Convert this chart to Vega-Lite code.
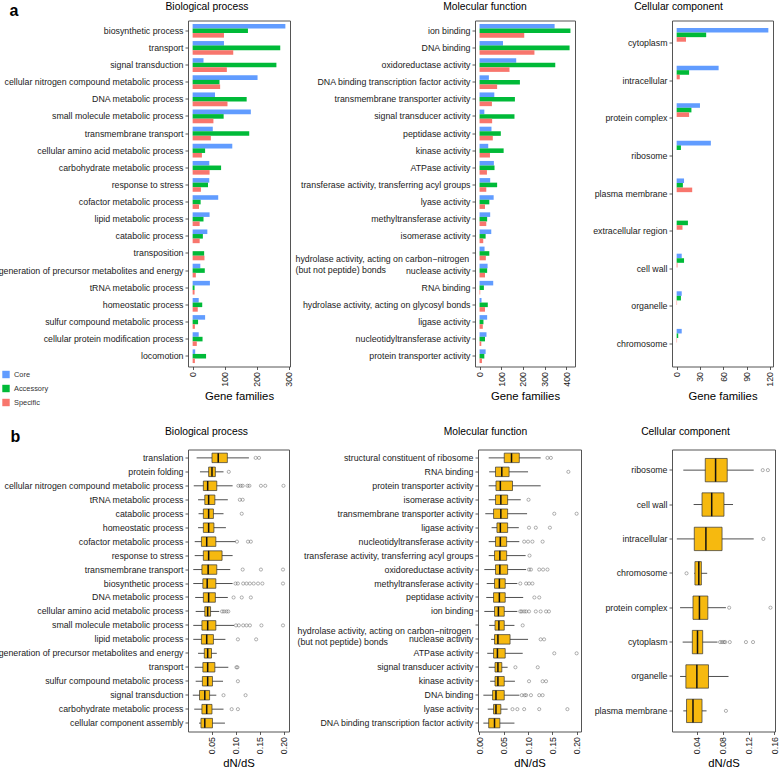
{
  "$schema": "https://vega.github.io/schema/vega-lite/v6.json",
  "padding": {"left": -3, "top": 1.5, "right": 0, "bottom": 0},
  "config": {
    "font": "Liberation Sans",
    "view": {"stroke": "#555", "strokeWidth": 1},
    "axis": {"domain": false, "grid": false, "tickSize": 3, "tickColor": "#333", "tickWidth": 0.8, "labelFontSize": 8.8, "labelColor": "#1a1a1a", "labelPadding": 2, "labelLimit": 400, "titleFontSize": 11.3, "titleFontWeight": "normal", "titleColor": "#000"},
    "axisX": {"labelAngle": 270, "titlePadding": 4, "labelOverlap": false, "labelFlush": false},
    "title": {"fontSize": 10.3, "fontWeight": "normal", "anchor": "middle", "color": "#000"}
  },
  "datasets": {
    "bpBar": [
      {"t":"biosynthetic process","g":"Core","v":290},{"t":"biosynthetic process","g":"Accessory","v":173},{"t":"biosynthetic process","g":"Specific","v":98},
      {"t":"transport","g":"Core","v":98},{"t":"transport","g":"Accessory","v":274},{"t":"transport","g":"Specific","v":127},
      {"t":"signal transduction","g":"Core","v":34},{"t":"signal transduction","g":"Accessory","v":262},{"t":"signal transduction","g":"Specific","v":107},
      {"t":"cellular nitrogen compound metabolic process","g":"Core","v":203},{"t":"cellular nitrogen compound metabolic process","g":"Accessory","v":84},{"t":"cellular nitrogen compound metabolic process","g":"Specific","v":86},
      {"t":"DNA metabolic process","g":"Core","v":70},{"t":"DNA metabolic process","g":"Accessory","v":169},{"t":"DNA metabolic process","g":"Specific","v":109},
      {"t":"small molecule metabolic process","g":"Core","v":182},{"t":"small molecule metabolic process","g":"Accessory","v":97},{"t":"small molecule metabolic process","g":"Specific","v":65},
      {"t":"transmembrane transport","g":"Core","v":63},{"t":"transmembrane transport","g":"Accessory","v":177},{"t":"transmembrane transport","g":"Specific","v":57},
      {"t":"cellular amino acid metabolic process","g":"Core","v":124},{"t":"cellular amino acid metabolic process","g":"Accessory","v":39},{"t":"cellular amino acid metabolic process","g":"Specific","v":29},
      {"t":"carbohydrate metabolic process","g":"Core","v":52},{"t":"carbohydrate metabolic process","g":"Accessory","v":89},{"t":"carbohydrate metabolic process","g":"Specific","v":53},
      {"t":"response to stress","g":"Core","v":52},{"t":"response to stress","g":"Accessory","v":48},{"t":"response to stress","g":"Specific","v":26},
      {"t":"cofactor metabolic process","g":"Core","v":80},{"t":"cofactor metabolic process","g":"Accessory","v":25},{"t":"cofactor metabolic process","g":"Specific","v":20},
      {"t":"lipid metabolic process","g":"Core","v":53},{"t":"lipid metabolic process","g":"Accessory","v":34},{"t":"lipid metabolic process","g":"Specific","v":22},
      {"t":"catabolic process","g":"Core","v":46},{"t":"catabolic process","g":"Accessory","v":32},{"t":"catabolic process","g":"Specific","v":22},
      {"t":"transposition","g":"Core","v":0},{"t":"transposition","g":"Accessory","v":36},{"t":"transposition","g":"Specific","v":37},
      {"t":"generation of precursor metabolites and energy","g":"Core","v":24},{"t":"generation of precursor metabolites and energy","g":"Accessory","v":38},{"t":"generation of precursor metabolites and energy","g":"Specific","v":10},
      {"t":"tRNA metabolic process","g":"Core","v":54},{"t":"tRNA metabolic process","g":"Accessory","v":6},{"t":"tRNA metabolic process","g":"Specific","v":6},
      {"t":"homeostatic process","g":"Core","v":19},{"t":"homeostatic process","g":"Accessory","v":30},{"t":"homeostatic process","g":"Specific","v":16},
      {"t":"sulfur compound metabolic process","g":"Core","v":39},{"t":"sulfur compound metabolic process","g":"Accessory","v":17},{"t":"sulfur compound metabolic process","g":"Specific","v":7},
      {"t":"cellular protein modification process","g":"Core","v":19},{"t":"cellular protein modification process","g":"Accessory","v":31},{"t":"cellular protein modification process","g":"Specific","v":13},
      {"t":"locomotion","g":"Core","v":8},{"t":"locomotion","g":"Accessory","v":42},{"t":"locomotion","g":"Specific","v":7}
    ],
    "mfBar": [
      {"t":"ion binding","g":"Core","v":346},{"t":"ion binding","g":"Accessory","v":419},{"t":"ion binding","g":"Specific","v":206},
      {"t":"DNA binding","g":"Core","v":108},{"t":"DNA binding","g":"Accessory","v":415},{"t":"DNA binding","g":"Specific","v":253},
      {"t":"oxidoreductase activity","g":"Core","v":169},{"t":"oxidoreductase activity","g":"Accessory","v":349},{"t":"oxidoreductase activity","g":"Specific","v":138},
      {"t":"DNA binding transcription factor activity","g":"Core","v":43},{"t":"DNA binding transcription factor activity","g":"Accessory","v":186},{"t":"DNA binding transcription factor activity","g":"Specific","v":81},
      {"t":"transmembrane transporter activity","g":"Core","v":68},{"t":"transmembrane transporter activity","g":"Accessory","v":163},{"t":"transmembrane transporter activity","g":"Specific","v":57},
      {"t":"signal transducer activity","g":"Core","v":22},{"t":"signal transducer activity","g":"Accessory","v":161},{"t":"signal transducer activity","g":"Specific","v":58},
      {"t":"peptidase activity","g":"Core","v":55},{"t":"peptidase activity","g":"Accessory","v":98},{"t":"peptidase activity","g":"Specific","v":61},
      {"t":"kinase activity","g":"Core","v":40},{"t":"kinase activity","g":"Accessory","v":111},{"t":"kinase activity","g":"Specific","v":48},
      {"t":"ATPase activity","g":"Core","v":66},{"t":"ATPase activity","g":"Accessory","v":69},{"t":"ATPase activity","g":"Specific","v":34},
      {"t":"transferase activity, transferring acyl groups","g":"Core","v":49},{"t":"transferase activity, transferring acyl groups","g":"Accessory","v":81},{"t":"transferase activity, transferring acyl groups","g":"Specific","v":31},
      {"t":"lyase activity","g":"Core","v":65},{"t":"lyase activity","g":"Accessory","v":45},{"t":"lyase activity","g":"Specific","v":25},
      {"t":"methyltransferase activity","g":"Core","v":49},{"t":"methyltransferase activity","g":"Accessory","v":35},{"t":"methyltransferase activity","g":"Specific","v":31},
      {"t":"isomerase activity","g":"Core","v":54},{"t":"isomerase activity","g":"Accessory","v":28},{"t":"isomerase activity","g":"Specific","v":17},
      {"t":"hydrolase activity, acting on carbon−nitrogen (but not peptide) bonds","g":"Core","v":23},{"t":"hydrolase activity, acting on carbon−nitrogen (but not peptide) bonds","g":"Accessory","v":45},{"t":"hydrolase activity, acting on carbon−nitrogen (but not peptide) bonds","g":"Specific","v":29},
      {"t":"nuclease activity","g":"Core","v":37},{"t":"nuclease activity","g":"Accessory","v":35},{"t":"nuclease activity","g":"Specific","v":25},
      {"t":"RNA binding","g":"Core","v":63},{"t":"RNA binding","g":"Accessory","v":20},{"t":"RNA binding","g":"Specific","v":3},
      {"t":"hydrolase activity, acting on glycosyl bonds","g":"Core","v":9},{"t":"hydrolase activity, acting on glycosyl bonds","g":"Accessory","v":38},{"t":"hydrolase activity, acting on glycosyl bonds","g":"Specific","v":25},
      {"t":"ligase activity","g":"Core","v":35},{"t":"ligase activity","g":"Accessory","v":18},{"t":"ligase activity","g":"Specific","v":15},
      {"t":"nucleotidyltransferase activity","g":"Core","v":32},{"t":"nucleotidyltransferase activity","g":"Accessory","v":25},{"t":"nucleotidyltransferase activity","g":"Specific","v":8},
      {"t":"protein transporter activity","g":"Core","v":28},{"t":"protein transporter activity","g":"Accessory","v":22},{"t":"protein transporter activity","g":"Specific","v":11}
    ],
    "ccBar": [
      {"t":"cytoplasm","g":"Core","v":118},{"t":"cytoplasm","g":"Accessory","v":38},{"t":"cytoplasm","g":"Specific","v":12},
      {"t":"intracellular","g":"Core","v":54},{"t":"intracellular","g":"Accessory","v":16},{"t":"intracellular","g":"Specific","v":4},
      {"t":"protein complex","g":"Core","v":30},{"t":"protein complex","g":"Accessory","v":19},{"t":"protein complex","g":"Specific","v":16},
      {"t":"ribosome","g":"Core","v":44},{"t":"ribosome","g":"Accessory","v":5.5},{"t":"ribosome","g":"Specific","v":0},
      {"t":"plasma membrane","g":"Core","v":9.5},{"t":"plasma membrane","g":"Accessory","v":8},{"t":"plasma membrane","g":"Specific","v":20},
      {"t":"extracellular region","g":"Core","v":0},{"t":"extracellular region","g":"Accessory","v":14.5},{"t":"extracellular region","g":"Specific","v":7.5},
      {"t":"cell wall","g":"Core","v":6.5},{"t":"cell wall","g":"Accessory","v":9.5},{"t":"cell wall","g":"Specific","v":1},
      {"t":"organelle","g":"Core","v":6.5},{"t":"organelle","g":"Accessory","v":5.5},{"t":"organelle","g":"Specific","v":0.5},
      {"t":"chromosome","g":"Core","v":6.5},{"t":"chromosome","g":"Accessory","v":2},{"t":"chromosome","g":"Specific","v":0.5}
    ],
    "bpBox": [
      {"t":"translation","lo":0.018,"q1":0.050,"med":0.063,"q3":0.082,"hi":0.127},
      {"t":"protein folding","lo":0.025,"q1":0.043,"med":0.050,"q3":0.057,"hi":0.074},
      {"t":"cellular nitrogen compound metabolic process","lo":0.012,"q1":0.032,"med":0.041,"q3":0.060,"hi":0.093},
      {"t":"tRNA metabolic process","lo":0.021,"q1":0.035,"med":0.043,"q3":0.056,"hi":0.083},
      {"t":"catabolic process","lo":0.022,"q1":0.032,"med":0.043,"q3":0.053,"hi":0.074},
      {"t":"homeostatic process","lo":0.021,"q1":0.032,"med":0.043,"q3":0.054,"hi":0.079},
      {"t":"cofactor metabolic process","lo":0.014,"q1":0.028,"med":0.039,"q3":0.058,"hi":0.099},
      {"t":"response to stress","lo":0.014,"q1":0.032,"med":0.043,"q3":0.071,"hi":0.093},
      {"t":"transmembrane transport","lo":0.011,"q1":0.029,"med":0.042,"q3":0.060,"hi":0.088},
      {"t":"biosynthetic process","lo":0.011,"q1":0.031,"med":0.040,"q3":0.058,"hi":0.093},
      {"t":"DNA metabolic process","lo":0.015,"q1":0.032,"med":0.043,"q3":0.057,"hi":0.083},
      {"t":"cellular amino acid metabolic process","lo":0.016,"q1":0.035,"med":0.041,"q3":0.047,"hi":0.065},
      {"t":"small molecule metabolic process","lo":0.011,"q1":0.029,"med":0.041,"q3":0.058,"hi":0.096},
      {"t":"lipid metabolic process","lo":0.011,"q1":0.028,"med":0.039,"q3":0.053,"hi":0.078},
      {"t":"generation of precursor metabolites and energy","lo":0.021,"q1":0.034,"med":0.041,"q3":0.049,"hi":0.060},
      {"t":"transport","lo":0.014,"q1":0.031,"med":0.041,"q3":0.056,"hi":0.084},
      {"t":"sulfur compound metabolic process","lo":0.016,"q1":0.030,"med":0.041,"q3":0.051,"hi":0.073},
      {"t":"signal transduction","lo":0.010,"q1":0.024,"med":0.035,"q3":0.045,"hi":0.059},
      {"t":"carbohydrate metabolic process","lo":0.013,"q1":0.029,"med":0.039,"q3":0.050,"hi":0.074},
      {"t":"cellular component assembly","lo":0.023,"q1":0.027,"med":0.035,"q3":0.051,"hi":0.077}
    ],
    "bpOut": [
      {"t":"translation","v":0.141},{"t":"translation","v":0.148},
      {"t":"protein folding","v":0.085},
      {"t":"cellular nitrogen compound metabolic process","v":0.105},{"t":"cellular nitrogen compound metabolic process","v":0.110},{"t":"cellular nitrogen compound metabolic process","v":0.114},{"t":"cellular nitrogen compound metabolic process","v":0.124},{"t":"cellular nitrogen compound metabolic process","v":0.128},{"t":"cellular nitrogen compound metabolic process","v":0.152},{"t":"cellular nitrogen compound metabolic process","v":0.161},{"t":"cellular nitrogen compound metabolic process","v":0.199},
      {"t":"tRNA metabolic process","v":0.108},{"t":"tRNA metabolic process","v":0.114},
      {"t":"catabolic process","v":0.112},
      {"t":"cofactor metabolic process","v":0.102},{"t":"cofactor metabolic process","v":0.125},{"t":"cofactor metabolic process","v":0.131},
      {"t":"transmembrane transport","v":0.114},{"t":"transmembrane transport","v":0.152},{"t":"transmembrane transport","v":0.198},
      {"t":"biosynthetic process","v":0.099},{"t":"biosynthetic process","v":0.104},{"t":"biosynthetic process","v":0.115},{"t":"biosynthetic process","v":0.122},{"t":"biosynthetic process","v":0.129},{"t":"biosynthetic process","v":0.137},{"t":"biosynthetic process","v":0.146},{"t":"biosynthetic process","v":0.155},{"t":"biosynthetic process","v":0.198},
      {"t":"DNA metabolic process","v":0.095},{"t":"DNA metabolic process","v":0.112},{"t":"DNA metabolic process","v":0.131},
      {"t":"cellular amino acid metabolic process","v":0.071},{"t":"cellular amino acid metabolic process","v":0.075},{"t":"cellular amino acid metabolic process","v":0.080},{"t":"cellular amino acid metabolic process","v":0.084},
      {"t":"small molecule metabolic process","v":0.100},{"t":"small molecule metabolic process","v":0.106},{"t":"small molecule metabolic process","v":0.115},{"t":"small molecule metabolic process","v":0.122},{"t":"small molecule metabolic process","v":0.129},{"t":"small molecule metabolic process","v":0.153},{"t":"small molecule metabolic process","v":0.198},
      {"t":"lipid metabolic process","v":0.104},{"t":"lipid metabolic process","v":0.142},
      {"t":"transport","v":0.101},{"t":"transport","v":0.103},
      {"t":"sulfur compound metabolic process","v":0.104},
      {"t":"signal transduction","v":0.074},{"t":"signal transduction","v":0.120},
      {"t":"carbohydrate metabolic process","v":0.091},{"t":"carbohydrate metabolic process","v":0.104}
    ],
    "mfBox": [
      {"t":"structural constituent of ribosome","lo":0.019,"q1":0.051,"med":0.066,"q3":0.082,"hi":0.126},
      {"t":"RNA binding","lo":0.020,"q1":0.033,"med":0.046,"q3":0.061,"hi":0.100},
      {"t":"protein transporter activity","lo":0.019,"q1":0.034,"med":0.043,"q3":0.068,"hi":0.126},
      {"t":"isomerase activity","lo":0.019,"q1":0.033,"med":0.044,"q3":0.058,"hi":0.085},
      {"t":"transmembrane transporter activity","lo":0.012,"q1":0.029,"med":0.044,"q3":0.058,"hi":0.098},
      {"t":"ligase activity","lo":0.025,"q1":0.036,"med":0.043,"q3":0.058,"hi":0.081},
      {"t":"nucleotidyltransferase activity","lo":0.019,"q1":0.033,"med":0.043,"q3":0.056,"hi":0.082},
      {"t":"transferase activity, transferring acyl groups","lo":0.019,"q1":0.031,"med":0.042,"q3":0.056,"hi":0.095},
      {"t":"oxidoreductase activity","lo":0.010,"q1":0.033,"med":0.042,"q3":0.058,"hi":0.096},
      {"t":"methyltransferase activity","lo":0.015,"q1":0.031,"med":0.041,"q3":0.053,"hi":0.078},
      {"t":"peptidase activity","lo":0.014,"q1":0.029,"med":0.041,"q3":0.053,"hi":0.090},
      {"t":"ion binding","lo":0.010,"q1":0.031,"med":0.039,"q3":0.051,"hi":0.078},
      {"t":"hydrolase activity, acting on carbon−nitrogen (but not peptide) bonds","lo":0.020,"q1":0.032,"med":0.040,"q3":0.051,"hi":0.072},
      {"t":"nuclease activity","lo":0.024,"q1":0.031,"med":0.038,"q3":0.063,"hi":0.100},
      {"t":"ATPase activity","lo":0.016,"q1":0.029,"med":0.037,"q3":0.053,"hi":0.089},
      {"t":"signal transducer activity","lo":0.019,"q1":0.032,"med":0.038,"q3":0.046,"hi":0.058},
      {"t":"kinase activity","lo":0.022,"q1":0.032,"med":0.038,"q3":0.051,"hi":0.073},
      {"t":"DNA binding","lo":0.008,"q1":0.027,"med":0.034,"q3":0.051,"hi":0.082},
      {"t":"lyase activity","lo":0.017,"q1":0.029,"med":0.034,"q3":0.044,"hi":0.058},
      {"t":"DNA binding transcription factor activity","lo":0.008,"q1":0.019,"med":0.031,"q3":0.042,"hi":0.072}
    ],
    "mfOut": [
      {"t":"structural constituent of ribosome","v":0.140},{"t":"structural constituent of ribosome","v":0.147},
      {"t":"RNA binding","v":0.183},
      {"t":"isomerase activity","v":0.101},
      {"t":"transmembrane transporter activity","v":0.154},{"t":"transmembrane transporter activity","v":0.200},
      {"t":"ligase activity","v":0.102},{"t":"ligase activity","v":0.116},{"t":"ligase activity","v":0.145},
      {"t":"nucleotidyltransferase activity","v":0.092},{"t":"nucleotidyltransferase activity","v":0.100},{"t":"nucleotidyltransferase activity","v":0.109},{"t":"nucleotidyltransferase activity","v":0.130},
      {"t":"transferase activity, transferring acyl groups","v":0.103},
      {"t":"oxidoreductase activity","v":0.102},{"t":"oxidoreductase activity","v":0.106},{"t":"oxidoreductase activity","v":0.123},{"t":"oxidoreductase activity","v":0.131},{"t":"oxidoreductase activity","v":0.140},
      {"t":"methyltransferase activity","v":0.084},{"t":"methyltransferase activity","v":0.096},{"t":"methyltransferase activity","v":0.102},{"t":"methyltransferase activity","v":0.109},
      {"t":"peptidase activity","v":0.113},{"t":"peptidase activity","v":0.123},
      {"t":"ion binding","v":0.084},{"t":"ion binding","v":0.087},{"t":"ion binding","v":0.092},{"t":"ion binding","v":0.096},{"t":"ion binding","v":0.102},{"t":"ion binding","v":0.116},{"t":"ion binding","v":0.126},{"t":"ion binding","v":0.137},{"t":"ion binding","v":0.143},
      {"t":"hydrolase activity, acting on carbon−nitrogen (but not peptide) bonds","v":0.089},
      {"t":"nuclease activity","v":0.126},{"t":"nuclease activity","v":0.133},
      {"t":"ATPase activity","v":0.154},{"t":"ATPase activity","v":0.200},
      {"t":"signal transducer activity","v":0.074},{"t":"signal transducer activity","v":0.120},
      {"t":"kinase activity","v":0.102},{"t":"kinase activity","v":0.130},{"t":"kinase activity","v":0.137},
      {"t":"DNA binding","v":0.087},{"t":"DNA binding","v":0.093},{"t":"DNA binding","v":0.096},{"t":"DNA binding","v":0.106},{"t":"DNA binding","v":0.123},{"t":"DNA binding","v":0.130},
      {"t":"lyase activity","v":0.068},{"t":"lyase activity","v":0.078},{"t":"lyase activity","v":0.092},{"t":"lyase activity","v":0.123},{"t":"lyase activity","v":0.181}
    ],
    "ccBox": [
      {"t":"ribosome","lo":0.019,"q1":0.053,"med":0.069,"q3":0.087,"hi":0.128},
      {"t":"cell wall","lo":0.035,"q1":0.048,"med":0.063,"q3":0.082,"hi":0.096},
      {"t":"intracellular","lo":0.009,"q1":0.036,"med":0.054,"q3":0.079,"hi":0.128},
      {"t":"chromosome","lo":0.036,"q1":0.037,"med":0.043,"q3":0.047,"hi":0.056},
      {"t":"protein complex","lo":0.014,"q1":0.034,"med":0.044,"q3":0.057,"hi":0.085},
      {"t":"cytoplasm","lo":0.018,"q1":0.033,"med":0.041,"q3":0.049,"hi":0.072},
      {"t":"organelle","lo":0.014,"q1":0.023,"med":0.040,"q3":0.058,"hi":0.089},
      {"t":"plasma membrane","lo":0.019,"q1":0.024,"med":0.034,"q3":0.048,"hi":0.055}
    ],
    "ccOut": [
      {"t":"ribosome","v":0.142},{"t":"ribosome","v":0.150},
      {"t":"intracellular","v":0.143},
      {"t":"chromosome","v":0.024},
      {"t":"protein complex","v":0.090},{"t":"protein complex","v":0.154},
      {"t":"cytoplasm","v":0.076},{"t":"cytoplasm","v":0.079},{"t":"cytoplasm","v":0.082},{"t":"cytoplasm","v":0.084},{"t":"cytoplasm","v":0.091},{"t":"cytoplasm","v":0.116},{"t":"cytoplasm","v":0.127},
      {"t":"plasma membrane","v":0.085}
    ]
  },
  "spacing": 19,
  "vconcat": [
    {
      "bounds": "flush",
      "spacing": 185,
      "resolve": {"scale": {"color": "independent"}, "legend": {"color": "independent"}},
      "hconcat": [
        {
          "width": 102, "height": 346,
          "title": {"text": "Biological process", "dx": -32, "dy": 18, "offset": 8},
          "data": {"name": "bpBar"},
          "mark": {"type": "bar"},
          "encoding": {
            "y": {"field": "t", "type": "nominal", "sort": null, "scale": {"paddingInner": 0.2, "paddingOuter": 0.2},
                  "axis": {"title": "a", "titleAngle": 0, "titleX": -179, "titleY": -5, "titleAlign": "left", "titleBaseline": "alphabetic", "titleFontSize": 16, "titleFontWeight": "bold"}},
            "yOffset": {"field": "g", "type": "nominal", "sort": ["Core", "Accessory", "Specific"], "scale": {"paddingInner": 0, "paddingOuter": 0}},
            "x": {"field": "v", "type": "quantitative", "scale": {"domain": [-14.5, 304.5], "nice": false, "zero": false}, "axis": {"values": [0, 100, 200, 300], "tickCount": 20, "title": "Gene families"}},
            "color": {"field": "g", "type": "nominal", "scale": {"domain": ["Core", "Accessory", "Specific"], "range": ["#619CFF", "#00BA38", "#F8766D"]},
                      "legend": {"orient": "none", "legendX": -186, "legendY": 350, "title": null, "symbolType": "square", "symbolSize": 55, "symbolStrokeWidth": 0, "labelFontSize": 7.4, "labelColor": "#333", "rowPadding": 6, "labelOffset": 4}}
          }
        },
        {
          "bounds": "flush",
          "spacing": 97,
          "resolve": {"scale": {"color": "independent"}, "legend": {"color": "independent"}},
          "hconcat": [
            {
              "width": 100, "height": 346,
              "title": {"text": "Molecular function", "dx": -40, "offset": 8},
              "data": {"name": "mfBar"},
              "mark": {"type": "bar"},
              "encoding": {
                "y": {"field": "t", "type": "nominal", "sort": null, "scale": {"paddingInner": 0.2, "paddingOuter": 0.2},
                      "axis": {"title": null, "labelLineHeight": 11,
                               "labelExpr": "indexof(datum.label, ' (but') > 0 ? [slice(datum.label, 0, indexof(datum.label, ' (but')), slice(datum.label, indexof(datum.label, ' (but') + 1)] : datum.label",
                               "labelOffset": {"condition": {"test": "indexof(datum.value, ' (but') > 0", "value": 5.5}, "value": 0},
                               "labelAlign": {"condition": {"test": "indexof(datum.value, ' (but') > 0", "value": "left"}, "value": "right"},
                               "labelPadding": {"condition": {"test": "indexof(datum.value, ' (but') > 0", "value": 177}, "value": 2}}},
                "yOffset": {"field": "g", "type": "nominal", "sort": ["Core", "Accessory", "Specific"], "scale": {"paddingInner": 0, "paddingOuter": 0}},
                "x": {"field": "v", "type": "quantitative", "scale": {"domain": [-21, 440], "nice": false, "zero": false}, "axis": {"values": [0, 100, 200, 300, 400], "tickCount": 20, "title": "Gene families"}},
                "color": {"field": "g", "type": "nominal", "scale": {"domain": ["Core", "Accessory", "Specific"], "range": ["#619CFF", "#00BA38", "#F8766D"]}, "legend": null}
              }
            },
            {
              "width": 101, "height": 346,
              "title": {"text": "Cellular component", "dx": -44, "offset": 8},
              "data": {"name": "ccBar"},
              "mark": {"type": "bar"},
              "encoding": {
                "y": {"field": "t", "type": "nominal", "sort": null, "scale": {"paddingInner": 0.2, "paddingOuter": 0.2}, "axis": {"title": null}},
                "yOffset": {"field": "g", "type": "nominal", "sort": ["Core", "Accessory", "Specific"], "scale": {"paddingInner": 0, "paddingOuter": 0}},
                "x": {"field": "v", "type": "quantitative", "scale": {"domain": [-6, 124], "nice": false, "zero": false}, "axis": {"values": [0, 30, 60, 90, 120], "tickCount": 20, "title": "Gene families"}},
                "color": {"field": "g", "type": "nominal", "scale": {"domain": ["Core", "Accessory", "Specific"], "range": ["#619CFF", "#00BA38", "#F8766D"]}, "legend": null}
              }
            }
          ]
        }
      ]
    },
    {
      "bounds": "flush",
      "spacing": 189,
      "hconcat": [
        {
          "width": 101, "height": 282,
          "title": {"text": "Biological process", "dx": -32, "dy": 21, "offset": 12},
          "layer": [
            {"data": {"name": "bpBox"}, "mark": {"type": "rule", "color": "#222", "strokeWidth": 0.8},
             "encoding": {
               "y": {"field": "t", "type": "nominal", "scale": {"domain": ["translation","protein folding","cellular nitrogen compound metabolic process","tRNA metabolic process","catabolic process","homeostatic process","cofactor metabolic process","response to stress","transmembrane transport","biosynthetic process","DNA metabolic process","cellular amino acid metabolic process","small molecule metabolic process","lipid metabolic process","generation of precursor metabolites and energy","transport","sulfur compound metabolic process","signal transduction","carbohydrate metabolic process","cellular component assembly"], "paddingInner": 0.32, "paddingOuter": 0.26},
                     "axis": {"title": "b", "titleAngle": 0, "titleX": -178, "titleY": -8, "titleAlign": "left", "titleBaseline": "alphabetic", "titleFontSize": 16, "titleFontWeight": "bold"}},
               "x": {"field": "lo", "type": "quantitative", "scale": {"domain": [0.0, 0.2105], "nice": false, "zero": false}, "axis": {"values": [0.05, 0.1, 0.15, 0.2], "tickCount": 20, "format": ".2f", "title": "dN/dS"}},
               "x2": {"field": "hi"}
             }},
            {"data": {"name": "bpBox"}, "mark": {"type": "bar", "fill": "#F6B90F", "stroke": "#333", "strokeWidth": 0.7},
             "encoding": {"y": {"field": "t", "type": "nominal"}, "x": {"field": "q1", "type": "quantitative"}, "x2": {"field": "q3"}}},
            {"data": {"name": "bpBox"}, "mark": {"type": "bar", "fill": "#111", "stroke": "#111", "strokeWidth": 1.5},
             "encoding": {"y": {"field": "t", "type": "nominal"}, "x": {"field": "med", "type": "quantitative"}, "x2": {"field": "med"}}},
            {"data": {"name": "bpOut"}, "mark": {"type": "point", "shape": "circle", "filled": false, "size": 10, "stroke": "#444", "strokeWidth": 0.6},
             "encoding": {"y": {"field": "t", "type": "nominal"}, "x": {"field": "v", "type": "quantitative"}}}
          ]
        },
        {
          "bounds": "flush",
          "spacing": 91,
          "hconcat": [
            {
              "width": 103, "height": 282,
              "title": {"text": "Molecular function", "dx": -44, "offset": 12},
              "layer": [
                {"data": {"name": "mfBox"}, "mark": {"type": "rule", "color": "#222", "strokeWidth": 0.8},
                 "encoding": {
                   "y": {"field": "t", "type": "nominal", "scale": {"domain": ["structural constituent of ribosome","RNA binding","protein transporter activity","isomerase activity","transmembrane transporter activity","ligase activity","nucleotidyltransferase activity","transferase activity, transferring acyl groups","oxidoreductase activity","methyltransferase activity","peptidase activity","ion binding","hydrolase activity, acting on carbon−nitrogen (but not peptide) bonds","nuclease activity","ATPase activity","signal transducer activity","kinase activity","DNA binding","lyase activity","DNA binding transcription factor activity"], "paddingInner": 0.32, "paddingOuter": 0.26},
                         "axis": {"title": null, "labelLineHeight": 11,
                                  "labelExpr": "indexof(datum.label, ' (but') > 0 ? [slice(datum.label, 0, indexof(datum.label, ' (but')), slice(datum.label, indexof(datum.label, ' (but') + 1)] : datum.label",
                                  "labelOffset": {"condition": {"test": "indexof(datum.value, ' (but') > 0", "value": 5.5}, "value": 0},
                                  "labelAlign": {"condition": {"test": "indexof(datum.value, ' (but') > 0", "value": "left"}, "value": "right"},
                                  "labelPadding": {"condition": {"test": "indexof(datum.value, ' (but') > 0", "value": 178}, "value": 2}}},
                   "x": {"field": "lo", "type": "quantitative", "scale": {"domain": [-0.003, 0.209], "nice": false, "zero": false}, "axis": {"values": [0, 0.05, 0.1, 0.15, 0.2], "tickCount": 20, "format": ".2f", "title": "dN/dS"}},
                   "x2": {"field": "hi"}
                 }},
                {"data": {"name": "mfBox"}, "mark": {"type": "bar", "fill": "#F6B90F", "stroke": "#333", "strokeWidth": 0.7},
                 "encoding": {"y": {"field": "t", "type": "nominal"}, "x": {"field": "q1", "type": "quantitative"}, "x2": {"field": "q3"}}},
                {"data": {"name": "mfBox"}, "mark": {"type": "bar", "fill": "#111", "stroke": "#111", "strokeWidth": 1.5},
                 "encoding": {"y": {"field": "t", "type": "nominal"}, "x": {"field": "med", "type": "quantitative"}, "x2": {"field": "med"}}},
                {"data": {"name": "mfOut"}, "mark": {"type": "point", "shape": "circle", "filled": false, "size": 10, "stroke": "#444", "strokeWidth": 0.6},
                 "encoding": {"y": {"field": "t", "type": "nominal"}, "x": {"field": "v", "type": "quantitative"}}}
              ]
            },
            {
              "width": 103, "height": 282,
              "title": {"text": "Cellular component", "dx": -38, "offset": 12},
              "layer": [
                {"data": {"name": "ccBox"}, "mark": {"type": "rule", "color": "#222", "strokeWidth": 0.8},
                 "encoding": {
                   "y": {"field": "t", "type": "nominal", "scale": {"domain": ["ribosome","cell wall","intracellular","chromosome","protein complex","cytoplasm","organelle","plasma membrane"], "paddingInner": 0.32, "paddingOuter": 0.26}, "axis": {"title": null}},
                   "x": {"field": "lo", "type": "quantitative", "scale": {"domain": [0.0015, 0.161], "nice": false, "zero": false}, "axis": {"values": [0.04, 0.08, 0.12, 0.16], "tickCount": 20, "format": ".2f", "title": "dN/dS"}},
                   "x2": {"field": "hi"}
                 }},
                {"data": {"name": "ccBox"}, "mark": {"type": "bar", "fill": "#F6B90F", "stroke": "#333", "strokeWidth": 0.7},
                 "encoding": {"y": {"field": "t", "type": "nominal"}, "x": {"field": "q1", "type": "quantitative"}, "x2": {"field": "q3"}}},
                {"data": {"name": "ccBox"}, "mark": {"type": "bar", "fill": "#111", "stroke": "#111", "strokeWidth": 1.5},
                 "encoding": {"y": {"field": "t", "type": "nominal"}, "x": {"field": "med", "type": "quantitative"}, "x2": {"field": "med"}}},
                {"data": {"name": "ccOut"}, "mark": {"type": "point", "shape": "circle", "filled": false, "size": 10, "stroke": "#444", "strokeWidth": 0.6},
                 "encoding": {"y": {"field": "t", "type": "nominal"}, "x": {"field": "v", "type": "quantitative"}}}
              ]
            }
          ]
        }
      ]
    }
  ]
}
